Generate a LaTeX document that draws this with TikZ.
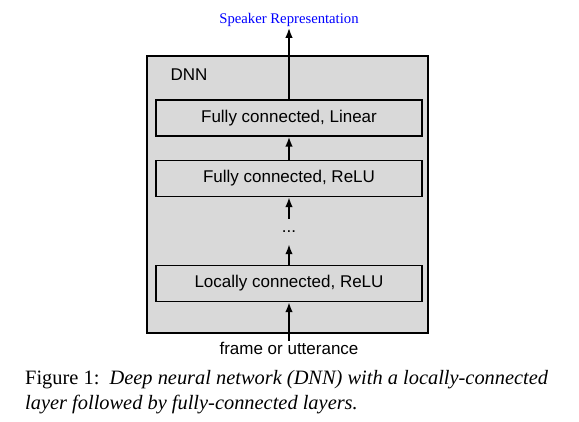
\documentclass[tikz,border=0pt]{standalone}
\usepackage{fontspec}
\setmainfont{Liberation Serif}
\newfontfamily\arialfont{Liberation Sans}
\usetikzlibrary{arrows.meta}
\definecolor{boxgray}{gray}{0.85}
\definecolor{reprblue}{rgb}{0,0,1}

\begin{document}
\begin{tikzpicture}[x=1pt,y=-1pt,
  sans/.style={font=\arialfont\fontsize{17}{20}\selectfont},
  layer/.style={sans,draw,line width=1.3pt,fill=boxgray,minimum width=266pt,minimum height=36pt,inner sep=0pt},
  flow/.style={-{Latex[length=10pt,width=7.5pt]},line width=1.8pt}]
	\useasboundingbox (0,0) rectangle (579,422);
	\node[draw,line width=1.8pt,fill=boxgray,minimum width=281pt,minimum height=277pt,inner sep=0pt] (dnn) at (287.5,194.5) {};
	\node[sans,anchor=west] (dnnlabel) at (167,75) {DNN};
	\node[layer] (linear) at (289,118) {Fully connected, Linear};
	\node[layer] (relu) at (289,178.5) {Fully connected, ReLU};
	\node[sans,minimum height=25pt,inner sep=0pt] (dots) at (289,231.5) {...};
	\node[layer] (local) at (289,283.5) {Locally connected, ReLU};
	\node[sans,inner sep=1pt] (input) at (289,348) {frame or utterance};
	\node[text=reprblue,font=\fontsize{14.7}{16}\selectfont,inner sep=1pt] (repr) at (289,20) {Speaker Representation};
	% connections, bottom to top
	\draw[flow] (input) -- (local);
	\draw[flow] (local) -- (dots);
	\draw[flow] (dots) -- (relu);
	\draw[flow] (relu) -- (linear);
	\draw[flow] (linear) -- (repr);
	\node[anchor=north west,align=left,inner sep=0pt,font=\fontsize{20.4}{25}\selectfont] (caption) at (25,370)
	  {Figure 1:\hspace{0.5em}\textit{Deep neural network (DNN) with a locally-connected}\\
	   \textit{layer followed by fully-connected layers.}};
\end{tikzpicture}
\end{document}
